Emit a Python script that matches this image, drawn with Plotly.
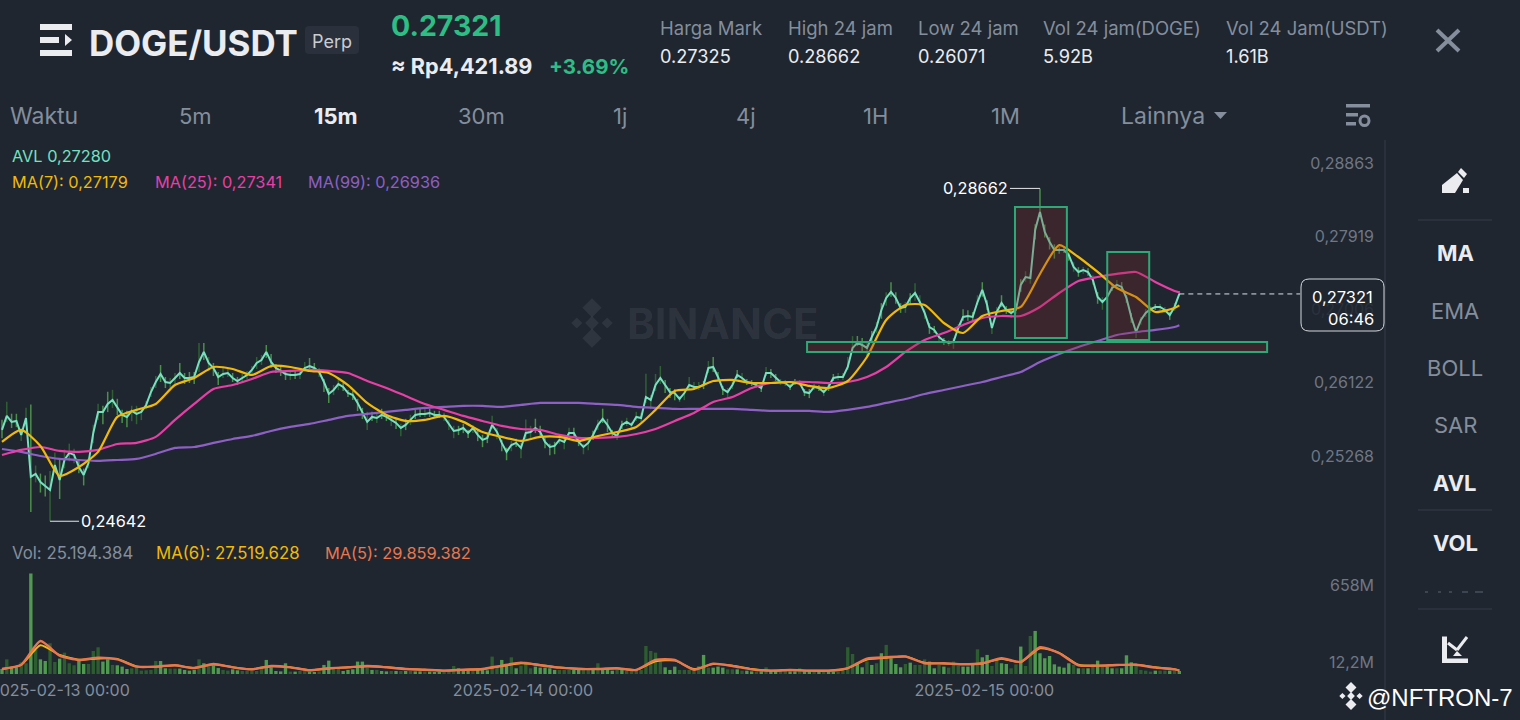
import math

import pandas as pd
import plotly.graph_objects as go
from plotly.subplots import make_subplots

BG = "#1f2630"
GREY = "#848e9c"
DIM = "#6f7785"
WHITE = "#eaecef"
GREEN = "#2ebd85"
LINE = "#363c4a"
BOX = "#2fa877"

# 15m candles
candle_times = pd.date_range("2025-02-12 21:00", periods=246, freq="15min")

avl = [
    .25685, .25849, .25779, .25790, .25627, .25825, .25143, .25177, .25085, .25040,
    .24995, .25279, .25108, .25337, .25418, .25395, .25256, .25166, .25302, .25650,
    .25896, .25896, .25990, .26037, .25955, .25861, .25837, .25908, .25872, .25896,
    .25978, .26131, .26250, .26346, .26250, .26238, .26298, .26358, .26298, .26298,
    .26310, .26490, .26611, .26478, .26418, .26310, .26346, .26358, .26298, .26262,
    .26298, .26334, .26394, .26478, .26514, .26611, .26490, .26418, .26382, .26346,
    .26334, .26334, .26346, .26418, .26442, .26418, .26370, .26250, .26108, .26155,
    .26226, .26191, .26119, .26096, .26002, .25884, .25779, .25837, .25825, .25861,
    .25837, .25802, .25767, .25708, .25743, .25802, .25861, .25872, .25872, .25884,
    .25861, .25861, .25837, .25755, .25673, .25685, .25708, .25650, .25708, .25627,
    .25569, .25592, .25743, .25661, .25534, .25430, .25510, .25534, .25476, .25650,
    .25661, .25708, .25661, .25545, .25487, .25499, .25569, .25545, .25650, .25650,
    .25545, .25487, .25534, .25627, .25743, .25814, .25743, .25650, .25615, .25743,
    .25779, .25743, .25837, .25825, .26072, .26037, .26214, .26298, .26214, .26131,
    .26119, .26049, .26119, .26214, .26191, .26191, .26214, .26418, .26430, .26310,
    .26167, .26131, .26214, .26334, .26298, .26250, .26238, .26214, .26179, .26358,
    .26358, .26298, .26250, .26238, .26191, .26250, .26238, .26131, .26119, .26191,
    .26179, .26131, .26191, .26298, .26310, .26310, .26430, .26659, .26720, .26695,
    .26659, .26792, .26914, .27123, .27271, .27346, .27271, .27147, .27160, .27271,
    .27333, .27221, .27086, .26914, .26878, .26792, .26744, .26720, .26732, .26902,
    .27037, .27049, .27037, .27221, .27371, .27184, .26902, .27098, .27209, .27123,
    .27086, .27123, .27433, .27532, .27520, .28126, .28356, .28101, .27974, .27871,
    .27871, .27871, .27808, .27658, .27595, .27620, .27595, .27495, .27283, .27221,
    .27283, .27395, .27433, .27408, .27271, .27037, .26853, .27000, .27086, .27135,
    .27160, .27160, .27123, .27061, .27160, .27321,
]

# wick lengths above / below the avl line, in 0.00001 price units
wick_up = [
    120, 168, 96, 84, 72, 120, 840, 96, 96, 120,
    216, 144, 240, 120, 108, 72, 72, 72, 60, 96,
    96, 72, 144, 120, 96, 60, 72, 60, 96, 48,
    48, 60, 72, 108, 60, 60, 60, 120, 60, 72,
    60, 228, 108, 72, 60, 60, 84, 60, 60, 48,
    48, 48, 48, 72, 60, 84, 96, 48, 48, 48,
    48, 48, 36, 72, 96, 60, 48, 36, 72, 60,
    60, 48, 36, 48, 48, 60, 120, 60, 60, 72,
    36, 48, 48, 48, 72, 60, 60, 60, 60, 48,
    48, 48, 48, 48, 60, 48, 48, 36, 36, 60,
    60, 60, 108, 48, 36, 48, 48, 48, 60, 156,
    72, 108, 72, 48, 36, 48, 48, 48, 60, 60,
    48, 36, 36, 48, 60, 120, 72, 36, 36, 48,
    48, 36, 60, 60, 276, 60, 132, 144, 60, 48,
    48, 36, 36, 96, 60, 60, 48, 84, 120, 60,
    36, 48, 48, 60, 60, 36, 36, 36, 36, 72,
    48, 48, 36, 36, 36, 36, 36, 36, 48, 36,
    36, 36, 36, 48, 48, 48, 120, 144, 84, 84,
    60, 72, 60, 84, 72, 120, 72, 60, 60, 60,
    120, 84, 48, 48, 48, 36, 36, 36, 48, 48,
    96, 72, 60, 84, 96, 60, 36, 60, 96, 48,
    36, 36, 72, 72, 48, 72, 306, 96, 60, 72,
    36, 36, 36, 60, 60, 36, 48, 60, 60, 60,
    60, 48, 60, 60, 36, 48, 36, 36, 48, 36,
    36, 36, 36, 36, 48, 36,
]
wick_dn = [
    96, 72, 72, 72, 72, 96, 398, 96, 120, 120,
    353, 72, 216, 96, 96, 96, 72, 120, 60, 120,
    96, 144, 96, 96, 96, 96, 120, 120, 120, 96,
    48, 60, 72, 96, 72, 60, 72, 72, 72, 60,
    84, 120, 96, 96, 96, 96, 48, 48, 48, 48,
    60, 48, 72, 72, 60, 72, 72, 60, 60, 72,
    60, 48, 60, 36, 36, 48, 60, 120, 108, 60,
    72, 48, 48, 60, 96, 72, 96, 48, 60, 48,
    48, 72, 72, 96, 60, 60, 48, 36, 36, 48,
    36, 36, 48, 72, 84, 60, 60, 60, 60, 72,
    84, 60, 48, 84, 96, 96, 72, 48, 120, 72,
    72, 60, 60, 72, 96, 96, 48, 84, 72, 48,
    48, 84, 84, 60, 60, 48, 84, 48, 48, 48,
    48, 48, 48, 48, 72, 108, 72, 72, 96, 72,
    84, 36, 84, 48, 36, 36, 48, 60, 60, 48,
    72, 72, 48, 36, 48, 36, 36, 36, 48, 36,
    60, 36, 36, 36, 36, 36, 36, 48, 60, 36,
    36, 48, 48, 36, 36, 36, 36, 60, 36, 72,
    96, 60, 72, 108, 96, 60, 72, 60, 72, 72,
    96, 48, 72, 84, 36, 60, 48, 36, 84, 48,
    48, 60, 60, 36, 84, 60, 72, 60, 48, 48,
    60, 48, 84, 60, 72, 120, 60, 72, 96, 108,
    48, 36, 72, 60, 60, 48, 48, 60, 84, 96,
    60, 36, 36, 48, 60, 72, 72, 60, 48, 48,
    36, 48, 36, 60, 48, 12,
]

# moving averages, read once per hour plus the last candle
ma_times = list(candle_times[::4]) + [candle_times[-1]]

ma7 = [
    .25545, .25685, .25499, .25154, .25256, .25430, .25837, .25920, .25990, .26214,
    .26298, .26430, .26406, .26334, .26442, .26430, .26382, .26358, .26214, .26002,
    .25861, .25790, .25802, .25849, .25779, .25661, .25604, .25557, .25604, .25604,
    .25557, .25615, .25661, .25720, .25920, .26143, .26167, .26262, .26275, .26238,
    .26238, .26250, .26203, .26179, .26262, .26550, .27000, .27184, .27184, .26963,
    .26841, .27049, .27110, .27160, .27570, .27933, .27783, .27595, .27395, .27283,
    .27098, .27147, .27179,
]
ma25 = [
    .25395, .25453, .25487, .25441, .25430, .25453, .25522, .25534, .25604, .25802,
    .25990, .26167, .26214, .26286, .26370, .26382, .26394, .26382, .26358, .26262,
    .26179, .26084, .25990, .25920, .25849, .25790, .25732, .25696, .25685, .25627,
    .25592, .25592, .25604, .25638, .25696, .25790, .25884, .26014, .26072, .26179,
    .26238, .26250, .26250, .26238, .26250, .26310, .26430, .26611, .26756, .26841,
    .26938, .27025, .27049, .27049, .27160, .27333, .27483, .27532, .27570, .27595,
    .27470, .27358, .27341,
]
ma99 = [
    .25464, .25430, .25383, .25349, .25337, .25326, .25337, .25349, .25407, .25476,
    .25487, .25534, .25580, .25615, .25673, .25720, .25755, .25802, .25849, .25872,
    .25896, .25920, .25943, .25955, .25967, .25967, .25955, .25978, .26002, .26002,
    .26002, .25990, .25978, .25955, .25943, .25931, .25931, .25931, .25931, .25920,
    .25908, .25908, .25908, .25896, .25920, .25955, .26002, .26049, .26108, .26155,
    .26203, .26250, .26310, .26370, .26490, .26587, .26671, .26744, .26817, .26853,
    .26878, .26914, .26936,
]

# volume in millions, 1 = bright bar, 0 = dark bar
volume = [
    42, 123, 56, 56, 98, 90, 843, 202, 123, 109,
    258, 101, 129, 179, 90, 73, 109, 84, 84, 193,
    224, 104, 123, 76, 73, 62, 42, 48, 56, 28,
    31, 34, 109, 109, 48, 45, 45, 45, 34, 28,
    34, 123, 90, 67, 73, 50, 34, 28, 39, 31,
    25, 25, 25, 25, 67, 118, 56, 25, 22, 90,
    20, 20, 25, 25, 20, 17, 22, 76, 112, 48,
    48, 25, 34, 39, 104, 104, 56, 34, 34, 25,
    22, 25, 25, 25, 25, 25, 22, 22, 22, 20,
    17, 17, 20, 20, 67, 48, 34, 28, 28, 34,
    34, 31, 146, 67, 118, 76, 140, 48, 70, 104,
    48, 62, 53, 53, 48, 34, 34, 34, 34, 34,
    34, 34, 34, 34, 90, 42, 42, 28, 39, 34,
    28, 28, 28, 34, 235, 193, 179, 104, 56, 34,
    62, 34, 34, 34, 28, 67, 160, 53, 53, 62,
    53, 39, 39, 39, 28, 28, 22, 22, 22, 56,
    34, 28, 28, 28, 22, 22, 48, 22, 22, 22,
    22, 22, 22, 20, 45, 39, 224, 168, 95, 56,
    104, 76, 90, 174, 244, 132, 84, 56, 84, 95,
    76, 76, 123, 104, 48, 76, 62, 53, 104, 67,
    62, 62, 76, 207, 140, 160, 67, 123, 90, 84,
    48, 81, 230, 67, 319, 361, 174, 132, 151, 81,
    62, 53, 90, 76, 48, 48, 48, 81, 112, 62,
    62, 48, 48, 48, 157, 98, 81, 34, 28, 20,
    28, 28, 28, 28, 28, 25.19,
]
vol_up = [
    1, 0, 1, 1, 0, 0, 1, 0, 1, 1, 0, 0, 1, 0, 0, 0, 1, 1, 0, 0,
    0, 1, 1, 0, 1, 1, 1, 0, 0, 0, 0, 0, 0, 1, 1, 0, 0, 1, 1, 1,
    1, 0, 1, 0, 1, 1, 0, 0, 1, 1, 0, 0, 0, 0, 0, 1, 1, 1, 1, 1,
    0, 1, 0, 0, 1, 1, 0, 1, 1, 0, 0, 1, 1, 1, 1, 1, 0, 1, 0, 1,
    1, 0, 1, 0, 1, 0, 1, 1, 0, 1, 1, 1, 0, 0, 0, 1, 1, 1, 0, 1,
    1, 1, 0, 0, 1, 1, 0, 1, 0, 0, 0, 1, 1, 1, 1, 1, 0, 0, 0, 1,
    1, 0, 0, 1, 0, 1, 1, 1, 0, 1, 0, 0, 0, 0, 0, 0, 0, 0, 1, 1,
    1, 0, 0, 0, 0, 0, 1, 0, 1, 1, 1, 0, 0, 1, 0, 1, 1, 0, 1, 0,
    1, 1, 0, 0, 1, 1, 0, 1, 1, 0, 1, 0, 1, 1, 0, 0, 0, 0, 1, 1,
    0, 1, 0, 1, 0, 1, 1, 1, 0, 1, 0, 0, 0, 1, 1, 0, 1, 0, 0, 0,
    1, 1, 1, 0, 1, 1, 0, 0, 1, 1, 0, 0, 1, 0, 0, 1, 1, 1, 1, 1,
    1, 1, 1, 0, 1, 0, 1, 0, 1, 0, 1, 1, 0, 1, 1, 1, 0, 0, 0, 0,
    1, 0, 0, 1, 0, 1,
]
vol_ma5 = [
    42, 78, 277, 154, 118, 137, 123, 62, 62, 73,
    50, 84, 56, 39, 67, 56, 31, 48, 56, 67,
    56, 42, 36, 28, 36, 42, 70, 95, 73, 53,
    42, 42, 48, 34, 118, 118, 36, 87, 67, 39,
    28, 34, 28, 28, 50, 129, 140, 146, 90, 90,
    81, 90, 132, 101, 224, 174, 73, 70, 76, 78,
    53, 39, 29.86,
]
vol_ma6 = [
    42, 75, 241, 160, 120, 130, 127, 64, 60, 72,
    52, 80, 58, 40, 64, 57, 33, 46, 55, 65,
    58, 43, 37, 28, 35, 42, 66, 90, 76, 55,
    44, 42, 48, 35, 105, 112, 42, 82, 70, 42,
    28, 34, 29, 28, 48, 120, 135, 148, 95, 88,
    82, 88, 128, 100, 215, 178, 78, 70, 75, 78,
    57, 40, 27.52,
]

price_ticks = [0.28863, 0.27919, 0.27006, 0.26122, 0.25268]
price_tick_text = ["0,28863", "0,27919", "0,27006", "0,26122", "0,25268"]
vol_ticks = [658, 12.2]
vol_tick_text = ["658M", "12,2M"]
date_ticks = ["2025-02-14 00:00", "2025-02-15 00:00"]
first_date_tick = "2025-02-13 00:00"

# drawn rectangles on the chart: start, end, top price, bottom price
rect_x0 = ["2025-02-15 01:42", "2025-02-15 06:30", "2025-02-14 14:53"]
rect_x1 = ["2025-02-15 04:24", "2025-02-15 08:41", "2025-02-15 14:49"]
rect_top = [0.28421, 0.27846, 0.26732]
rect_bot = [0.26780, 0.26756, 0.26611]

tabs = ["5m", "15m", "30m", "1j", "4j", "1H", "1M"]
tab_x = [195, 336, 481, 620, 746, 875, 1005]
side_items = ["MA", "EMA", "BOLL", "SAR", "AVL", "VOL"]
side_y = [253, 311, 368, 425, 483, 543]
side_on = [True, False, False, False, True, True]
stat_names = ["Harga Mark", "High 24 jam", "Low 24 jam", "Vol 24 jam(DOGE)", "Vol 24 Jam(USDT)"]
stat_vals = ["0.27325", "0.28662", "0.26071", "5.92B", "1.61B"]
stat_x = [660, 788, 918, 1043, 1226]


def px(x):
    return x / 1520


def py(y):
    return 1 - y / 720


fig = make_subplots(rows=2, cols=1, shared_xaxes=True)

# wicks, bright and dark candles apart because an error bar has one colour
for flag, col in [(0, "#2f6034"), (1, "#4a8f4a")]:
    idx = [i for i, v in enumerate(vol_up) if v == flag]
    fig.add_trace(go.Scatter(
        x=[candle_times[i] for i in idx],
        y=[avl[i] for i in idx],
        mode="markers",
        marker=dict(size=1, opacity=0),
        error_y=dict(
            type="data", symmetric=False,
            array=[wick_up[i] / 1e5 for i in idx],
            arrayminus=[wick_dn[i] / 1e5 for i in idx],
            color=col, thickness=1.5, width=0,
        ),
        hoverinfo="skip",
    ), row=1, col=1)

fig.add_trace(go.Scatter(x=candle_times, y=avl, mode="lines",
                         line=dict(color="#76e0bf", width=2)), row=1, col=1)
for vals, col in [(ma99, "#8e5fc4"), (ma25, "#e83fa6"), (ma7, "#f0b90b")]:
    fig.add_trace(go.Scatter(x=ma_times, y=vals, mode="lines",
                             line=dict(color=col, width=2.2, shape="spline", smoothing=0.6)),
                  row=1, col=1)

fig.add_trace(go.Bar(
    x=candle_times, y=volume,
    marker=dict(color=["#4f9a4f" if v else "#2d5c30" for v in vol_up], line_width=0),
), row=2, col=1)
fig.add_trace(go.Scatter(x=ma_times, y=vol_ma6, mode="lines",
                         line=dict(color="#f0b90b", width=1.8, shape="spline", smoothing=0.6)),
              row=2, col=1)
fig.add_trace(go.Scatter(x=ma_times, y=vol_ma5, mode="lines",
                         line=dict(color="#e8764f", width=2.4, shape="spline", smoothing=0.6)),
              row=2, col=1)

# plot spans: 0-1385 px across, price 140-540 px, volume 560-674 px
t0 = candle_times[0]
fig.update_xaxes(
    domain=[0, px(1385)],
    range=[t0 - pd.Timedelta(minutes=6.2), t0 + pd.Timedelta(minutes=15 * 287.8)],
    showgrid=False, zeroline=False, showline=False, ticks="",
)
fig.update_xaxes(
    row=2, col=1, tickmode="array",
    tickvals=date_ticks, ticktext=date_ticks, ticklabelshift=2,
    tickfont=dict(family="Inter", size=16, color=GREY), ticklabelstandoff=5,
)
fig.update_yaxes(
    row=1, col=1, type="log", side="right",
    domain=[py(540), py(140)],
    range=[math.log10(0.24433), math.log10(0.29299)],
    tickmode="array", tickvals=price_ticks, ticktext=price_tick_text,
    ticklabelposition="inside", ticklabelstandoff=8, ticklabelshift=-10,
    tickfont=dict(family="Inter", size=16, color=DIM),
    showgrid=False, zeroline=False, showline=False, ticks="",
)
fig.update_yaxes(
    row=2, col=1, side="right",
    domain=[py(674), py(560)],
    range=[0, 956],
    tickmode="array", tickvals=vol_ticks, ticktext=vol_tick_text,
    ticklabelposition="inside", ticklabelstandoff=8, ticklabelshift=-10,
    tickfont=dict(family="Inter", size=16, color=DIM),
    showgrid=False, zeroline=False, showline=False, ticks="",
)

shapes = []
for x0, x1, top, bot in zip(rect_x0, rect_x1, rect_top, rect_bot):
    shapes.append(dict(type="rect", xref="x", yref="y", x0=x0, x1=x1, y0=bot, y1=top,
                       fillcolor="rgba(138,38,44,0.28)", line=dict(color=BOX, width=2)))
# last price dashes
shapes.append(dict(type="line", xref="x", yref="y", x0=candle_times[-1], x1="2025-02-15 16:32",
                   y0=avl[-1], y1=avl[-1], line=dict(color="#dfe1e5", width=1, dash="5px,4px")))


def paper_rect(x0, y0, x1, y1, col):
    return dict(type="rect", xref="paper", yref="paper", x0=px(x0), x1=px(x1),
                y0=py(y1), y1=py(y0), fillcolor=col, line_width=0)


def paper_line(x0, y0, x1, y1, col, width=1):
    return dict(type="line", xref="paper", yref="paper", x0=px(x0), x1=px(x1),
                y0=py(y0), y1=py(y1), line=dict(color=col, width=width))


def paper_path(points, col):
    d = "M " + " L ".join(f"{px(a):.5f},{py(b):.5f}" for a, b in points) + " Z"
    return dict(type="path", xref="paper", yref="paper", path=d, fillcolor=col, line_width=0)


def diamond(cx, cy, r, col):
    # binance style mark made of small diamonds
    out = []
    for dx, dy, s in [(0, 0, .3), (-.66, 0, .24), (.66, 0, .24), (0, -.66, .42), (0, .66, .42)]:
        c, q = (cx + dx * r, cy + dy * r), s * r
        out.append(paper_path([(c[0] - q, c[1]), (c[0], c[1] - q), (c[0] + q, c[1]), (c[0], c[1] + q)], col))
    return out


# menu icon
shapes += [paper_rect(40, 24, 72, 30, WHITE), paper_rect(40, 37, 59, 43, WHITE), paper_rect(40, 50, 72, 56, WHITE),
           paper_path([(65, 34), (72, 40), (65, 46)], WHITE)]
# perp badge
shapes.append(dict(type="path", xref="paper", yref="paper", fillcolor="#2a303c", line_width=0,
                   path=f"M {px(309)},{py(26)} L {px(355)},{py(26)} Q {px(359)},{py(26)} {px(359)},{py(30)} "
                        f"L {px(359)},{py(50)} Q {px(359)},{py(54)} {px(355)},{py(54)} L {px(309)},{py(54)} "
                        f"Q {px(305)},{py(54)} {px(305)},{py(50)} L {px(305)},{py(30)} Q {px(305)},{py(26)} {px(309)},{py(26)} Z"))
# close cross
shapes += [paper_line(1437, 30, 1459, 51, GREY, 4), paper_line(1459, 30, 1437, 51, GREY, 4)]
# panel rules
shapes += [paper_line(1385, 140, 1385, 720, LINE), paper_line(1418, 220, 1492, 220, LINE),
           paper_line(1418, 510, 1492, 510, LINE), paper_line(1418, 609, 1492, 609, LINE)]
# clipped MACD row
for a, b in [(1425, 1428), (1438, 1441), (1449, 1452), (1462, 1468), (1475, 1483)]:
    shapes.append(paper_line(a, 592, b, 592, "#5c6470", 1))
# settings icon
shapes += [paper_rect(1346, 104, 1370, 107.5, GREY), paper_rect(1346, 113, 1358, 116.5, GREY),
           paper_rect(1346, 122, 1356, 125.5, GREY),
           dict(type="circle", xref="paper", yref="paper", x0=px(1360), x1=px(1369), y0=py(125.5), y1=py(116),
                line=dict(color=GREY, width=3))]
# pen icon
shapes += [paper_path([(1442, 193), (1442, 185), (1457, 173), (1463, 180), (1455, 193)], WHITE),
           paper_path([(1458, 172), (1461, 168), (1467, 174), (1464, 178)], WHITE),
           paper_rect(1463, 188, 1469, 193, WHITE)]
# chart icon
shapes += [paper_rect(1442, 636.5, 1447, 663, WHITE), paper_rect(1442, 658.5, 1468, 663, WHITE),
           paper_line(1448, 643, 1457, 650, WHITE, 3), paper_line(1457, 650, 1467, 637, WHITE, 3),
           paper_path([(1453, 656), (1457, 651), (1462, 656)], WHITE)]
# watermark and bottom right mark
shapes += diamond(592, 323, 23, "rgba(255,255,255,0.07)")
shapes += diamond(1351, 696, 13, WHITE)
# price tag
shapes.append(dict(type="path", xref="paper", yref="paper", fillcolor="rgba(31,38,48,0.86)",
                   line=dict(color="#d5d8dc", width=1),
                   path=f"M {px(1309)},{py(279)} L {px(1376)},{py(279)} Q {px(1384)},{py(279)} {px(1384)},{py(287)} "
                        f"L {px(1384)},{py(323)} Q {px(1384)},{py(331)} {px(1376)},{py(331)} L {px(1309)},{py(331)} "
                        f"Q {px(1301)},{py(331)} {px(1301)},{py(323)} L {px(1301)},{py(287)} Q {px(1301)},{py(279)} {px(1309)},{py(279)} Z"))

annotations = []


def label(text, x, y, size, col, anchor="left", bold=False, family="Inter"):
    # annotation box adds 2 px of padding round the text
    nudge = {"left": -2, "right": 2, "center": 0}[anchor]
    annotations.append(dict(
        text=f"<b>{text}</b>" if bold else text, x=px(x + nudge), y=py(y), xref="paper", yref="paper",
        xanchor=anchor, yanchor="middle", showarrow=False,
        font=dict(family=family, size=size, color=col),
    ))


label("BINANCE", 627, 323, 42, "rgba(255,255,255,0.07)", bold=True)
label("DOGE/USDT", 89, 43, 34.9, WHITE, bold=True)
label("Perp", 332, 41, 18, "#c9ccd1", anchor="center")
label("0.27321", 391, 26, 28.5, GREEN, bold=True)
label("≈ Rp4,421.89", 391, 66, 21.7, WHITE, bold=True)
label("+3.69%", 549, 66, 20.5, GREEN, bold=True)
for name, val, x in zip(stat_names, stat_vals, stat_x):
    label(name, x, 28, 18.5, GREY)
    label(val, x, 56, 18.2, WHITE)

label("Waktu", 10, 116, 23, GREY)
for t, x in zip(tabs, tab_x):
    on = t == "15m"
    label(t, x, 116, 22, WHITE if on else GREY, anchor="center", bold=on)
label("Lainnya", 1121, 116, 23, GREY)
shapes.append(paper_path([(1214, 112), (1227, 112), (1220.5, 119)], GREY))

for t, y, on in zip(side_items, side_y, side_on):
    label(t, 1455, y, 22, WHITE if on else GREY, anchor="center", bold=on)

label("AVL 0,27280", 12, 156, 16.3, "#76e0bf")
label("MA(7): 0,27179", 12, 182, 16.3, "#f0b90b")
label("MA(25): 0,27341", 155, 182, 16.3, "#e83fa6")
label("MA(99): 0,26936", 308, 182, 16.3, "#8e5fc4")
label("Vol: 25.194.384", 12, 553, 16.8, GREY)
label("MA(6): 27.519.628", 156, 553, 16.8, "#f0b90b")
label("MA(5): 29.859.382", 325, 553, 16.4, "#e8764f")

label("0,27321", 1373, 297, 16.5, "#ffffff", anchor="right")
label("06:46", 1374, 319, 16.5, "#ffffff", anchor="right")
label("@NFTRON-7", 1367, 697, 24, "#ffffff", family="Liberation Sans")

# left date label runs off the page, the axis would hide it
annotations.append(dict(x=first_date_tick, y=py(690), xref="x", yref="paper", text=first_date_tick,
                        showarrow=False, xanchor="center", yanchor="middle",
                        font=dict(family="Inter", size=16, color=GREY)))

# high and low callouts
annotations.append(dict(x=candle_times[216], y=math.log10(0.28662), xref="x", yref="y",
                        text="0,28662", ax=-64, ay=0, showarrow=True, arrowhead=0, arrowwidth=1,
                        arrowcolor="#e5e7ea", font=dict(family="Inter", size=16.3, color="#ffffff")))
annotations.append(dict(x=candle_times[10], y=math.log10(0.24642), xref="x", yref="y",
                        text="0,24642", ax=63, ay=0, showarrow=True, arrowhead=0, arrowwidth=1,
                        arrowcolor="#e5e7ea", font=dict(family="Inter", size=16.3, color="#ffffff")))

fig.update_layout(
    width=1520, height=720,
    margin=dict(l=0, r=0, t=0, b=0),
    paper_bgcolor=BG, plot_bgcolor=BG,
    showlegend=False, bargap=0.3,
    shapes=shapes, annotations=annotations,
)

fig.write_html("out.html", config={"displayModeBar": False},
               post_script="document.body.style.margin='0';")
